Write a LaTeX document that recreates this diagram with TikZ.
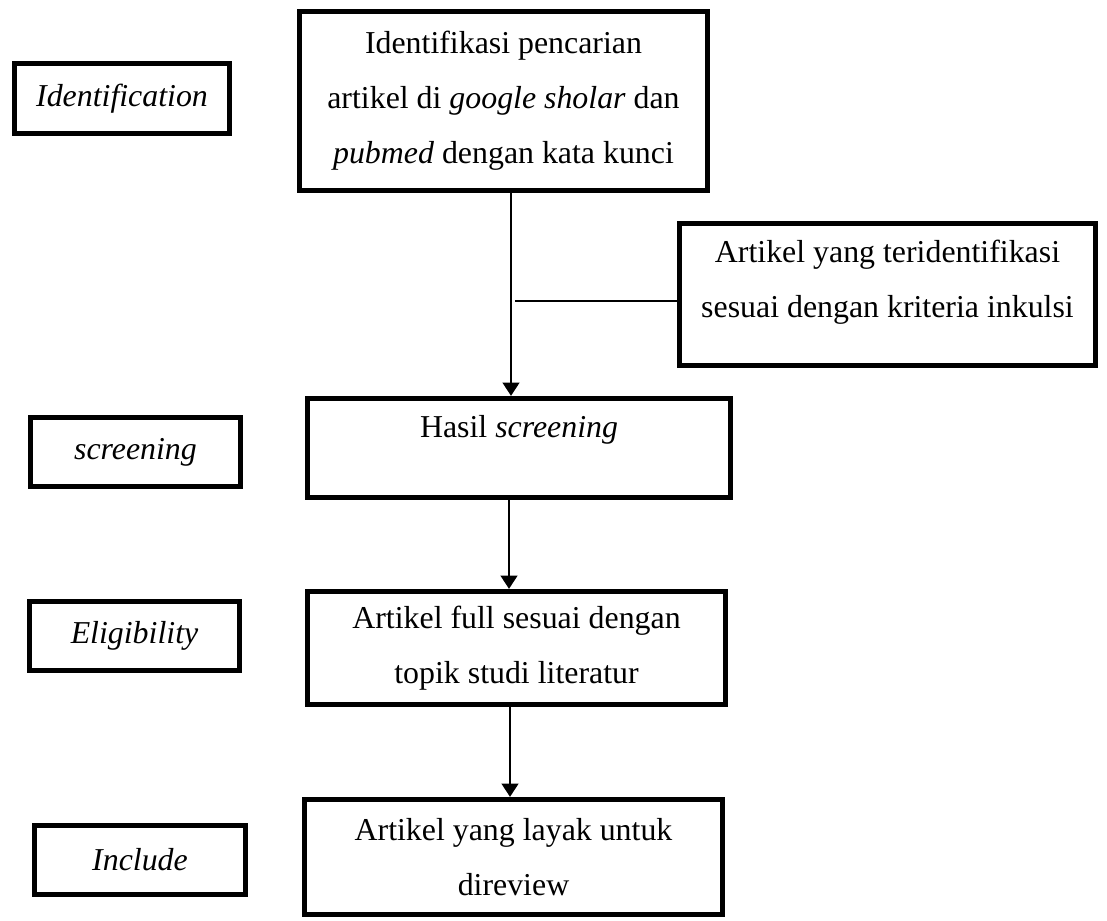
\documentclass[tikz,border=0pt]{standalone}
\usepackage{fontspec}
\setmainfont{Liberation Serif}
\usetikzlibrary{arrows.meta}

\tikzset{
  box/.style 2 args={draw=black,line width=2.1pt,rectangle,align=center,inner sep=0pt,
    minimum width=#1,minimum height=#2,font=\fontsize{13.6}{23.5}\selectfont},
  flow/.style={draw=black,line width=1.1pt,-{Triangle[length=0.2cm,width=0.25cm]}},
  branchline/.style={draw=black,line width=0.45pt},
}

\begin{document}
\begin{tikzpicture}
  \useasboundingbox (0,0) rectangle (16.605,-13.8);
  % stage labels
  \node[box={3.23cm}{1.055cm}] (identlbl) at (1.83,-1.4775) {\textit{Identification}};
  \node[box={3.155cm}{1.04cm}] (screenlbl) at (2.0325,-6.78) {\textit{screening}};
  \node[box={3.155cm}{1.04cm}] (eliglbl) at (2.0175,-9.54) {\textit{Eligibility}};
  \node[box={3.17cm}{1.04cm}] (inclbl) at (2.10,-12.90) {\textit{Include}};
  % flow
  \node[box={6.125cm}{2.69cm}] (search) at (7.5525,-1.515)
    {Identifikasi pencarian\\ artikel di \textit{google sholar} dan\\ \textit{pubmed} dengan kata kunci};
  \node[box={6.245cm}{2.135cm},text depth=0.465cm] (incl) at (13.3125,-4.4175)
    {Artikel yang teridentifikasi\\ sesuai dengan kriteria inkulsi};
  \node[box={6.35cm}{1.49cm},text depth=0.645cm] (result) at (7.785,-6.72) {Hasil \textit{screening}};
  \node[box={6.275cm}{1.70cm}] (full) at (7.7475,-9.72)
    {Artikel full sesuai dengan\\ topik studi literatur};
  \node[box={6.275cm}{1.73cm}] (review) at (7.7025,-12.855)
    {Artikel yang layak untuk\\ direview};
  \coordinate (branch) at (7.725,-4.515);
  \draw[flow] ([xshift=0.1125cm]search.south) -- ([xshift=0.1125cm]search.south |- result.north);
  \draw[flow] ([xshift=-0.15cm]result.south) -- ([xshift=-0.15cm]result.south |- full.north);
  \draw[flow] ([xshift=-0.0975cm]full.south) -- ([xshift=-0.0975cm]full.south |- review.north);
  \draw[branchline] (branch) -- (branch -| incl.west);
\end{tikzpicture}
\end{document}
